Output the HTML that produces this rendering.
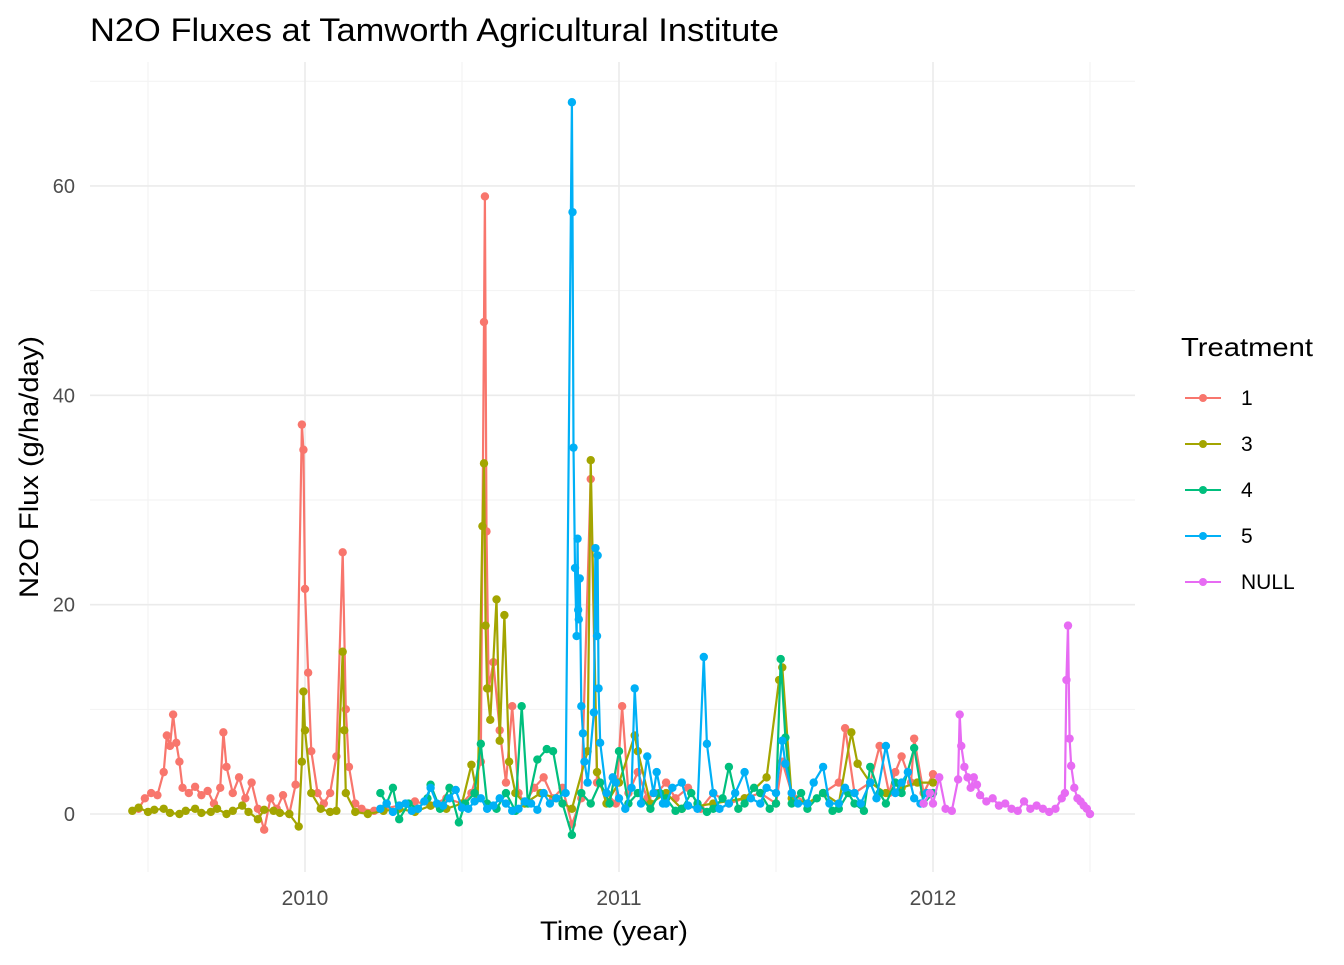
<!DOCTYPE html>
<html><head><meta charset="utf-8"><style>
body{margin:0;background:#fff;font-family:"Liberation Sans",Arial,sans-serif;}
</style></head><body>
<svg width="1344" height="960" xmlns="http://www.w3.org/2000/svg">
<text x="90" y="41" font-size="32" textLength="689" lengthAdjust="spacingAndGlyphs" fill="#000">N2O Fluxes at Tamworth Agricultural Institute</text>
<g id="grid"></g>
<g id="series"></g>
<g id="axes"></g>
<text x="540" y="940" font-size="27" textLength="148" lengthAdjust="spacingAndGlyphs" fill="#000">Time (year)</text>
<text transform="translate(38,598) rotate(-90)" font-size="27" textLength="262" lengthAdjust="spacingAndGlyphs" fill="#000">N2O Flux (g/ha/day)</text>
<g id="legend"></g>
</svg>
<script>
const xTicks=[2010,2011,2012];
const xMinor=[2009.5,2010.5,2011.5,2012.5];
const yTicks=[0,20,40,60];
const yMinor=[10,30,50,70];
const seriesNames=["1","3","4","5","NULL"];
const seriesColors=["#F8766D","#A3A500","#00BF7D","#00B0F6","#E76BF3"];
const t1=[2009.47,2009.49,2009.51,2009.53,2009.55,2009.56,2009.57,2009.58,2009.59,2009.60,2009.61,2009.63,2009.65,2009.67,2009.69,2009.71,2009.73,2009.74,2009.75,2009.77,2009.79,2009.81,2009.83,2009.85,2009.87,2009.89,2009.91,2009.93,2009.95,2009.97,2009.99,2009.995,2010.00,2010.01,2010.02,2010.04,2010.06,2010.08,2010.10,2010.12,2010.13,2010.14,2010.16,2010.18,2010.22,2010.25,2010.30,2010.35,2010.40,2010.45,2010.50,2010.53,2010.56,2010.570,2010.573,2010.578,2010.585,2010.60,2010.62,2010.64,2010.66,2010.68,2010.70,2010.73,2010.76,2010.79,2010.82,2010.85,2010.88,2010.91,2010.93,2010.96,2010.99,2011.01,2011.03,2011.06,2011.09,2011.12,2011.15,2011.18,2011.22,2011.26,2011.30,2011.35,2011.40,2011.45,2011.50,2011.52,2011.55,2011.60,2011.65,2011.70,2011.72,2011.75,2011.80,2011.83,2011.86,2011.88,2011.90,2011.93,2011.94,2011.97,2012.0];
const v1=[0.5,1.5,2.0,1.8,4,7.5,6.5,9.5,6.8,5,2.5,2,2.6,1.8,2.2,1,2.5,7.8,4.5,2,3.5,1.5,3,0.5,-1.5,1.5,0.5,1.8,0,2.8,37.2,34.8,21.5,13.5,6,2,1,2,5.5,25,10,4.5,1,0.5,0.3,0.5,0.8,1.2,0.8,1.5,1,2,5,47,59,27,12,14.5,8,3,10.3,2,1,2.5,3.5,1.5,2.5,-1,1.5,32,3,2,1,10.3,2,4,1.5,2,3,1.5,2.5,0.5,2,1,1.5,2,1,5,2,1,2,3,8.2,2,3,6.5,2,4,5.5,3,7.2,2,3.8];
const t3=[2009.45,2009.47,2009.50,2009.52,2009.55,2009.57,2009.60,2009.62,2009.65,2009.67,2009.70,2009.72,2009.75,2009.77,2009.80,2009.82,2009.85,2009.87,2009.90,2009.92,2009.95,2009.98,2009.99,2009.995,2010.00,2010.02,2010.05,2010.08,2010.10,2010.12,2010.125,2010.13,2010.16,2010.20,2010.25,2010.30,2010.35,2010.40,2010.45,2010.50,2010.53,2010.55,2010.565,2010.57,2010.575,2010.58,2010.59,2010.61,2010.62,2010.635,2010.65,2010.67,2010.70,2010.75,2010.80,2010.85,2010.90,2010.91,2010.93,2010.96,2011.00,2011.05,2011.06,2011.10,2011.15,2011.20,2011.30,2011.40,2011.47,2011.51,2011.52,2011.55,2011.60,2011.65,2011.70,2011.74,2011.76,2011.80,2011.85,2011.90,2011.95,2012.0];
const v3=[0.3,0.6,0.2,0.4,0.5,0.1,0,0.3,0.5,0.1,0.2,0.5,0,0.3,0.8,0.2,-0.5,0.4,0.3,0.1,0,-1.2,5,11.7,8,2,0.5,0.2,0.3,15.5,8,2,0.2,0,0.3,0.5,0.2,0.8,0.5,1,4.7,1.5,27.5,33.5,18,12,9,20.5,7,19,5,2,1,2,1.5,0.5,6,33.8,4,1,3,7.5,6,1,2,0.5,1,1.5,3.5,12.8,14,1.5,1,2,1,7.8,4.8,3,2,2.5,3,3];
const t4=[2010.24,2010.26,2010.28,2010.30,2010.33,2010.36,2010.39,2010.40,2010.43,2010.46,2010.49,2010.51,2010.54,2010.56,2010.58,2010.61,2010.64,2010.67,2010.69,2010.71,2010.74,2010.77,2010.79,2010.82,2010.85,2010.88,2010.91,2010.94,2010.97,2011.00,2011.03,2011.06,2011.10,2011.13,2011.15,2011.18,2011.20,2011.23,2011.25,2011.28,2011.30,2011.33,2011.35,2011.38,2011.40,2011.43,2011.45,2011.48,2011.50,2011.515,2011.53,2011.55,2011.58,2011.60,2011.63,2011.65,2011.68,2011.70,2011.73,2011.75,2011.78,2011.80,2011.83,2011.85,2011.88,2011.90,2011.94,2011.97,2012.0];
const v4=[2,1,2.5,-0.5,1,0.5,1.5,2.8,0.5,2.5,-0.8,1,2,6.7,1,0.5,2,0.3,10.3,1,5.2,6.2,6,1,-2,2,1,3,1,6,1,2,0.5,2,1.5,0.3,0.5,2,1,0.2,0.5,1.5,4.5,0.5,1,2.5,2,0.5,1,14.8,7.3,1,2,0.5,1.5,2,0.3,0.5,2,1,0.3,4.5,2,1,3,2,6.3,1,2];
const t5=[2010.24,2010.26,2010.28,2010.30,2010.32,2010.34,2010.36,2010.38,2010.40,2010.42,2010.44,2010.46,2010.48,2010.50,2010.52,2010.54,2010.56,2010.58,2010.60,2010.62,2010.64,2010.66,2010.68,2010.70,2010.72,2010.74,2010.76,2010.78,2010.80,2010.83,2010.85,2010.852,2010.855,2010.86,2010.865,2010.868,2010.87,2010.872,2010.875,2010.88,2010.885,2010.89,2010.90,2010.92,2010.925,2010.93,2010.932,2010.935,2010.94,2010.96,2010.98,2010.99,2011.00,2011.02,2011.04,2011.05,2011.07,2011.09,2011.11,2011.12,2011.14,2011.15,2011.17,2011.20,2011.22,2011.25,2011.27,2011.28,2011.30,2011.32,2011.35,2011.37,2011.40,2011.42,2011.45,2011.47,2011.50,2011.52,2011.53,2011.55,2011.57,2011.60,2011.62,2011.65,2011.67,2011.70,2011.72,2011.75,2011.77,2011.80,2011.82,2011.85,2011.88,2011.90,2011.92,2011.94,2011.96,2011.98];
const v5=[0.5,1,0.2,0.8,1,0.3,0.5,1.2,2.5,1,0.8,1.5,2.3,0.6,0.5,1.2,1.5,0.5,0.8,1.5,1,0.3,0.5,1.2,1,0.4,2,1,1.5,2,68,57.5,35,23.5,17,26.3,19.5,18.6,22.5,10.3,7.7,5,3,9.7,25.4,17,24.7,12,6.8,2,3.5,3,1.5,0.5,2.5,12,1,5.5,2,4,1,1,2.5,3,0.8,0.5,15,6.7,2,0.5,1,2,4,1.5,1,2.5,2,7,4.8,2,1,1,3,4.5,1,1,2.5,2,1,3,1.5,6.5,2,3,4,1.5,1,2];
const tN=[2011.97,2011.99,2012.00,2012.02,2012.04,2012.06,2012.08,2012.085,2012.09,2012.10,2012.11,2012.12,2012.13,2012.14,2012.15,2012.17,2012.19,2012.21,2012.23,2012.25,2012.27,2012.29,2012.31,2012.33,2012.35,2012.37,2012.39,2012.41,2012.42,2012.425,2012.43,2012.435,2012.44,2012.45,2012.46,2012.47,2012.48,2012.49,2012.50];
const vN=[1,2,1,3.5,0.5,0.3,3.3,9.5,6.5,4.5,3.5,2.5,3.5,2.8,1.8,1.2,1.5,0.8,1,0.5,0.3,1.2,0.5,0.8,0.5,0.2,0.5,1.5,2,12.8,18,7.2,4.6,2.5,1.5,1.2,0.8,0.5,0];
const seriesT=[t1,t3,t4,t5,tN];
const seriesV=[v1,v3,v4,v5,vN];

const NS="http://www.w3.org/2000/svg";
const X0=90,X1=1135,Y0=62,Y1=872;
function xs(t){return 305+(t-2010)*314;}
function ys(v){return 814-v*10.467;}
function mk(tag,attrs,parent){const e=document.createElementNS(NS,tag);for(const k in attrs)e.setAttribute(k,attrs[k]);parent.appendChild(e);return e;}
const grid=document.getElementById('grid'),axes=document.getElementById('axes'),ser=document.getElementById('series'),leg=document.getElementById('legend');
yMinor.forEach(v=>{const l=mk('line',{x1:X0,x2:X1,y1:ys(v),y2:ys(v),stroke:'#F2F2F2','stroke-width':1},grid);

});
xMinor.forEach(t=>{const l=mk('line',{x1:xs(t),x2:xs(t),y1:Y0,y2:Y1,stroke:'#F2F2F2','stroke-width':1},grid);

});
yTicks.forEach(v=>{const l=mk('line',{x1:X0,x2:X1,y1:ys(v),y2:ys(v),stroke:'#EBEBEB','stroke-width':1.6},grid);


const tx=mk('text',{x:75,y:ys(v)+7,'font-size':20,'text-anchor':'end',fill:'#4D4D4D'},axes);tx.textContent=v;

});
xTicks.forEach(t=>{const l=mk('line',{x1:xs(t),x2:xs(t),y1:Y0,y2:Y1,stroke:'#EBEBEB','stroke-width':1.6},grid);


const tx=mk('text',{x:xs(t),y:905,'font-size':21,'text-anchor':'middle',fill:'#4D4D4D'},axes);tx.textContent=t;

});
seriesNames.forEach((n,i)=>{
 const g=mk('g',{},ser);
 
 
 const T=seriesT[i],V=seriesV[i];
 const pts=T.map((t,j)=>xs(t).toFixed(1)+','+ys(V[j]).toFixed(1)).join(' ');
 const pl=mk('polyline',{points:pts,fill:'none',stroke:seriesColors[i],'stroke-width':2.2},g);
 
 
 T.forEach((t,j)=>{const c=mk('circle',{cx:xs(t),cy:ys(V[j]),r:4.2,fill:seriesColors[i]},g);
 
 });
 const ly=398+i*46;
 const ll=mk('line',{x1:1185,x2:1221,y1:ly,y2:ly,stroke:seriesColors[i],'stroke-width':2},leg);
 
 
 const lc=mk('circle',{cx:1203,cy:ly,r:4,fill:seriesColors[i]},leg);
 
 
 const lt=mk('text',{x:1241,y:ly+7,'font-size':21,fill:'#000'},leg);lt.textContent=n;
 
 
});
const lt=mk('text',{x:1181,y:356,'font-size':26,textLength:132,lengthAdjust:'spacingAndGlyphs',fill:'#000'},leg);lt.textContent='Treatment';


</script>
</body></html>
